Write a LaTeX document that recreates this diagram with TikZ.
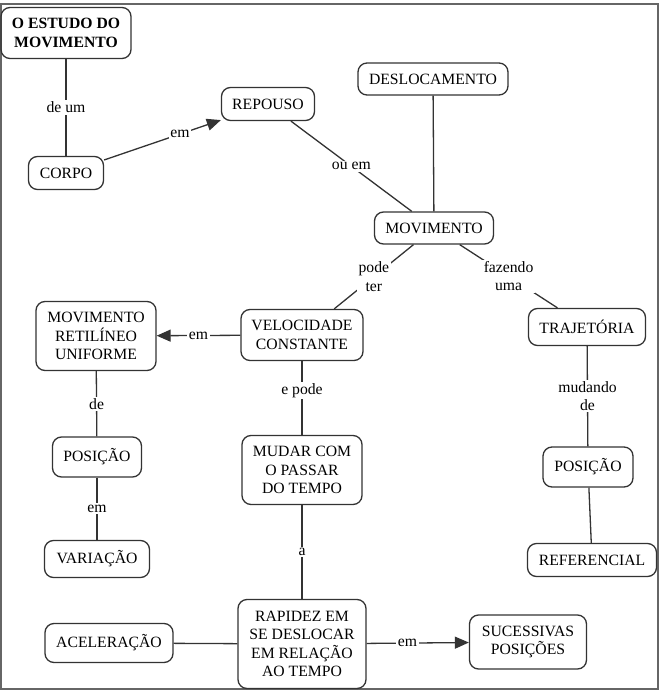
\documentclass[tikz,border=0pt]{standalone}
\usepackage{fontspec}
\setmainfont{Liberation Serif}
\usepackage{tikz}
\usetikzlibrary{arrows.meta}

\tikzset{
  conceptbox/.style={draw=black!80, line width=1.3pt, rounded corners=9pt,
    align=center, inner sep=2pt, minimum height=33pt,
    font=\fontsize{15.7}{18.3}\selectfont},
  linklabel/.style={fill=white, inner sep=1.5pt, align=center,
    font=\fontsize{15.7}{18.3}\selectfont},
  conn/.style={draw=black!80, line width=1.3pt},
  arrowed/.style={-{Triangle[length=14pt,width=12pt]}}
}

\begin{document}
\begin{tikzpicture}[x=1pt, y=-1pt]

    \useasboundingbox (0,0) rectangle (665,692);
    \draw [black!60, line width=1.6pt] (1,4) rectangle (658,689);

    \node [conceptbox, minimum width=130pt, minimum height=51pt,
      font=\fontsize{15.7}{18.3}\selectfont\bfseries]
      (estudo) at (66,33) {O ESTUDO DO\\MOVIMENTO};
    \node [conceptbox, minimum width=75pt] (corpo) at (66,173) {CORPO};
    \node [conceptbox, minimum width=93pt] (repouso) at (268,104) {REPOUSO};
    \node [conceptbox, minimum width=150pt, minimum height=32pt]
      (desloc) at (433,79) {DESLOCAMENTO};
    \node [conceptbox, minimum width=119pt, minimum height=32pt]
      (movimento) at (434,228) {MOVIMENTO};

    \node [conceptbox, minimum width=122pt, minimum height=51pt]
      (velocidade) at (302,335) {VELOCIDADE\\CONSTANTE};
    \node [conceptbox, minimum width=120pt, minimum height=69pt]
      (mru) at (96,336) {MOVIMENTO\\RETILÍNEO\\UNIFORME};
    \node [conceptbox, minimum width=89pt, minimum height=40pt]
      (posicaoA) at (97,457) {POSIÇÃO};
    \node [conceptbox, minimum width=105pt, minimum height=37pt]
      (variacao) at (97,559) {VARIAÇÃO};
    \node [conceptbox, minimum width=120pt, minimum height=69pt]
      (mudar) at (302,470) {MUDAR COM\\O PASSAR\\DO TEMPO};

    \node [conceptbox, minimum width=117pt, minimum height=37pt]
      (trajetoria) at (587,327) {TRAJETÓRIA};
    \node [conceptbox, minimum width=90pt, minimum height=40pt]
      (posicaoB) at (588,467) {POSIÇÃO};
    \node [conceptbox, minimum width=129pt] (referencial) at (592,560) {REFERENCIAL};

    \node [conceptbox, minimum width=128pt, minimum height=89pt]
      (rapidez) at (302,644) {RAPIDEZ EM\\SE DESLOCAR\\EM RELAÇÃO\\AO TEMPO};
    \node [conceptbox, minimum width=128pt, minimum height=39pt]
      (aceleracao) at (109,643) {ACELERAÇÃO};
    \node [conceptbox, minimum width=117pt, minimum height=54pt]
      (sucessivas) at (528,642) {SUCESSIVAS\\POSIÇÕES};

    \draw [conn] (estudo) -- node [linklabel] {de um} (corpo);
    \draw [conn, arrowed] (corpo) -- node [linklabel, pos=0.65] {em} (repouso);
    \draw [conn] (repouso) -- node [linklabel] {ou em} (movimento);
    \draw [conn] (desloc) -- (movimento);
    \draw [conn] (movimento) -- node [linklabel] {pode\\ter} (velocidade);
    \draw [conn] (movimento) -- node [linklabel] {fazendo\\uma} (trajetoria);

    \draw [conn, arrowed] (velocidade) -- node [linklabel] {em} (mru);
    \draw [conn] (mru) -- node [linklabel] {de} (posicaoA);
    \draw [conn] (posicaoA) -- node [linklabel] {em} (variacao);
    \draw [conn] (velocidade) -- node [linklabel, pos=0.4] {e pode} (mudar);
    \draw [conn] (mudar) -- node [linklabel] {a} (rapidez);

    \draw [conn] (trajetoria) -- node [linklabel] {mudando\\de} (posicaoB);
    \draw [conn] (posicaoB) -- (referencial);

    \draw [conn] (aceleracao) -- (rapidez);
    \draw [conn, arrowed] (rapidez) -- node [linklabel, pos=0.4] {em} (sucessivas);

\end{tikzpicture}
\end{document}
